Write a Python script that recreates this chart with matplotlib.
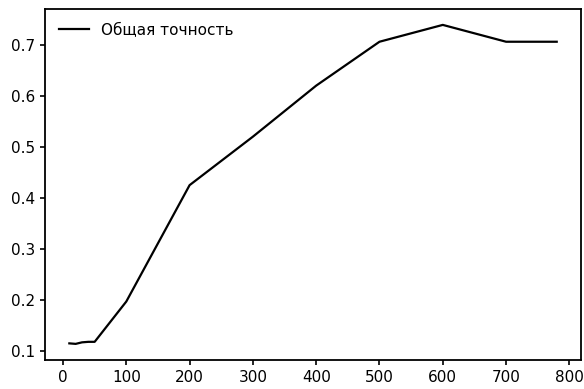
import matplotlib
matplotlib.use('Agg')
import matplotlib.pyplot as plt

plt.rcParams['font.family'] = ['DejaVu Sans']

# Общая точность в зависимости от числа ...
steps = [10, 20, 30, 40, 50, 100, 200, 300, 400, 500, 600, 700, 780]
accuracy = [0.115, 0.114, 0.117, 0.118, 0.118, 0.197, 0.425, 0.52, 0.62, 0.706, 0.739, 0.706, 0.706]
label = 'Общая точность'

fig = plt.figure(figsize=(5.84, 3.89), dpi=100)
ax = fig.add_axes([0.077, 0.075, 0.918, 0.902])
ax.plot(steps, accuracy, color='black', linewidth=1.6, label=label)
ax.set_xticks([0, 100, 200, 300, 400, 500, 600, 700, 800])
ax.set_yticks([0.1, 0.2, 0.3, 0.4, 0.5, 0.6, 0.7])
ax.tick_params(labelsize=11, width=1.2)
for s in ax.spines.values():
    s.set_linewidth(1.3)
ax.legend(loc='upper left', frameon=False, fontsize=11)

fig.savefig('out.png', dpi=100)
